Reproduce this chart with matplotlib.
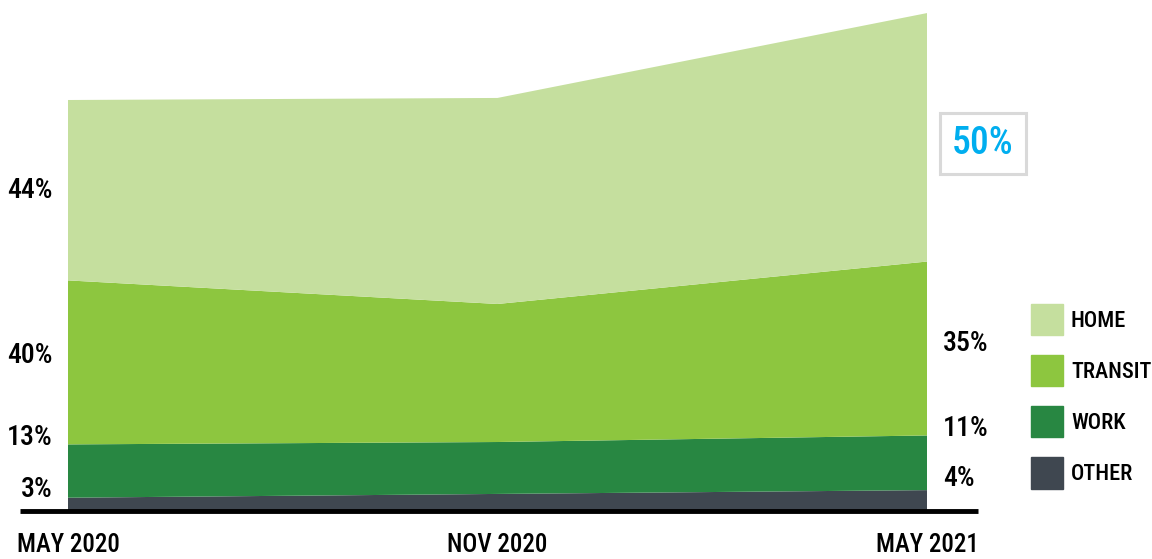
import numpy as np
import matplotlib.pyplot as plt
from matplotlib.patches import Patch

plt.rcParams['font.family'] = ['Noto Sans ExtraCondensed', 'Noto Sans Condensed', 'Roboto Condensed',
                               'Open Sans Condensed', 'DejaVu Sans Condensed', 'Noto Sans', 'DejaVu Sans']
plt.rcParams['font.stretch'] = 'extra-condensed'
plt.rcParams['font.weight'] = 'medium'

# survey waves and where people said they were
periods = ['MAY 2020', 'NOV 2020', 'MAY 2021']
categories = ['OTHER', 'WORK', 'TRANSIT', 'HOME']
# share of each category per wave (%)
share_other = [3, 3.9, 4]
share_work = [13, 12.6, 11]
share_transit = [40, 33.5, 35]
share_home = [44, 50, 50]
# overall volume per wave, May 2020 = 100
volume_index = [100, 100.5, 121.2]

left_labels = ['3%', '13%', '40%', '44%']
right_labels = ['4%', '11%', '35%']
highlight_label = '50%'

colors = ['#3f4750', '#288742', '#8dc63f', '#c5df9e']
highlight_color = '#00aeef'

x = np.arange(len(periods))
vol = np.array(volume_index)
layers = [np.array(s) / 100 * vol for s in (share_other, share_work, share_transit, share_home)]

fig = plt.figure(figsize=(11.52, 5.59), dpi=100)
ax = fig.add_axes([68 / 1152, 49 / 559, 859 / 1152, 500 / 559])
ax.stackplot(x, layers, colors=colors, linewidth=0)
ax.set_xlim(0, 2)
ax.set_ylim(0, 500 / 4.1)
ax.axis('off')

# heavy baseline running past both ends of the area
ax.plot([-0.112, 2.119], [-0.2, -0.2], color='black', lw=3.5, clip_on=False,
        solid_capstyle='butt')

# period labels under the baseline
for xi, p in zip(x, periods):
    ax.text(xi, -5.5, p, ha='center', va='top', fontsize=18, clip_on=False)

# percentage labels beside the first and last wave
lab_kw = dict(fontsize=20, va='center', clip_on=False)
for y, t in zip([4.9, 17.6, 37.8, 78], left_labels):
    ax.text(-0.035, y, t, ha='right', **lab_kw)
for y, t in zip([7.8, 20, 40.7], right_labels):
    ax.text(2.037, y, t, ha='left', **lab_kw)
ax.text(2.13, 89.4, highlight_label, ha='center', va='center', fontsize=27,
        color=highlight_color, clip_on=False,
        bbox=dict(boxstyle='square,pad=0.32', fc='white', ec='#d9d9d9', lw=2.2))

handles = [Patch(color=c, label=n) for c, n in zip(colors[::-1], categories[::-1])]
fig.legend(handles=handles, loc='upper left', bbox_to_anchor=(1031 / 1152, 1 - 304 / 559),
           frameon=False, fontsize=16, handlelength=1.45, handleheight=1.78,
           handletextpad=0.35, labelspacing=0.9, borderpad=0, borderaxespad=0)

fig.savefig('out.png', dpi=100)
